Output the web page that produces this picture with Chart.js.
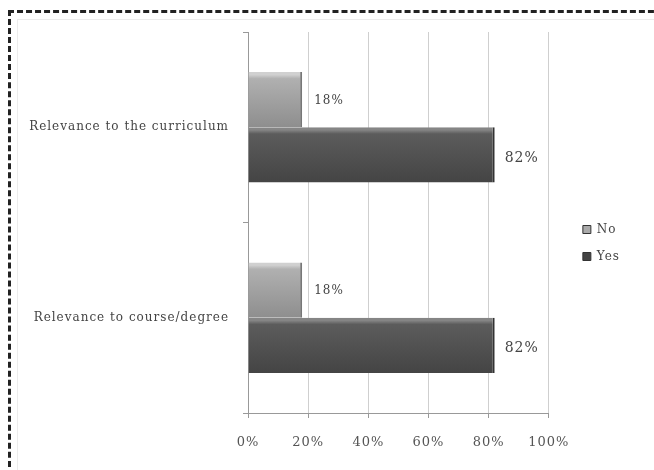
<!DOCTYPE html>
<html>
<head>
<meta charset="utf-8">
<script src="https://cdn.jsdelivr.net/npm/chart.js@4.4.1/dist/chart.umd.min.js"></script>
<style>
  html, body { margin: 0; padding: 0; background: #fff; }
  #wrap { position: relative; width: 654px; height: 470px; overflow: hidden; }
  #frame { position: absolute; left: 8px; top: 10px; width: 700px; height: 520px;
           border: 3px dashed #222; box-sizing: border-box; }
  #inner { position: absolute; left: 17px; top: 19px; width: 700px; height: 520px;
           border: 1px solid #ececec; box-sizing: border-box; }
  canvas { position: absolute; left: 0; top: 0; }
</style>
</head>
<body>
<div id="wrap">
  <div id="frame"></div>
  <div id="inner"></div>
  <canvas id="barChart" width="654" height="470"></canvas>
</div>
<script>
  'use strict';

  var categories = ["Relevance to the curriculum", "Relevance to course/degree"];
  var noValues = [18, 18];
  var yesValues = [82, 82];
  var tickValues = [0, 20, 40, 60, 80, 100];

  var serif = "'DejaVu Serif', 'Liberation Serif', serif";

  // vertical shading inside each bar, like the old office 3D style
  function barFill(light, mid, dark) {
    return function(ctx) {
      var el = ctx.element;
      var c = ctx.chart.ctx;
      if (!el || !el.height) return mid;
      var top = el.y - el.height / 2;
      var bottom = el.y + el.height / 2;
      var g = c.createLinearGradient(0, top, 0, bottom);
      g.addColorStop(0, light);
      g.addColorStop(0.05, light);
      g.addColorStop(0.12, mid);
      g.addColorStop(1, dark);
      return g;
    };
  }

  var valueLabels = {
    id: 'valueLabels',
    afterDatasetsDraw: function(chart) {
      var c = chart.ctx;
      c.save();
      c.fillStyle = '#444';
      c.textBaseline = 'middle';
      c.textAlign = 'left';
      chart.data.datasets.forEach(function(ds, i) {
        var meta = chart.getDatasetMeta(i);
        meta.data.forEach(function(bar, j) {
          c.font = (i === 0 ? '12px ' : '14px ') + serif;
          c.fillText(ds.data[j] + '%', bar.x + (i === 0 ? 12 : 10), bar.y + (i === 0 ? 1 : 3));
        });
      });
      c.restore();
    }
  };

  // the original text is drawn wide, spread the letters a little
  var wideText = {
    id: 'wideText',
    beforeUpdate: function(chart) { chart.ctx.letterSpacing = '1px'; },
    beforeLayout: function(chart) { chart.ctx.letterSpacing = '1px'; },
    beforeDraw: function(chart) { chart.ctx.letterSpacing = '1px'; }
  };

  // keep the legend where it sits in the original, a bit away from the plot
  var legendShift = {
    id: 'legendShift',
    afterLayout: function(chart) {
      chart.legend.left += 19;
      chart.legend.right += 19;
      chart.legend.top -= 5;
      chart.legend.bottom -= 5;
    }
  };

  var barData = {
    labels: categories,
    datasets: [{
      label: 'No',
      data: noValues,
      backgroundColor: barFill('#d0d0d0', '#b0b0b0', '#8e8e8e'),
      borderColor: '#777',
      borderWidth: { top: 0, bottom: 0, left: 0, right: 2 }
    }, {
      label: 'Yes',
      data: yesValues,
      backgroundColor: barFill('#858585', '#5c5c5c', '#444444'),
      borderColor: '#333',
      borderWidth: { top: 0, bottom: 0, left: 0, right: 2 }
    }]
  };

  var barOptions = {
    indexAxis: 'y',
    responsive: false,
    animation: false,
    categoryPercentage: 0.58,
    barPercentage: 1.0,
    layout: { padding: { left: 8, top: 32, right: 43, bottom: 6 } },
    scales: {
      x: {
        min: 0,
        max: 100,
        afterBuildTicks: function(scale) {
          scale.ticks = tickValues.map(function(v) { return { value: v }; });
        },
        afterFit: function(scale) { scale.height = 51; },
        ticks: {
          color: '#555',
          font: { family: serif, size: 13 },
          padding: 17,
          callback: function(v) { return v + '%'; }
        },
        grid: { color: '#cfcfcf', tickLength: 5, tickColor: '#999' },
        border: { color: '#999' }
      },
      y: {
        afterFit: function(scale) { scale.width = 240; },
        ticks: {
          color: '#444',
          font: { family: serif, size: 12 },
          padding: 14
        },
        grid: { offset: true, drawOnChartArea: false, tickLength: 5, color: '#999' },
        border: { color: '#999' }
      }
    },
    plugins: {
      legend: {
        position: 'right',
        labels: {
          color: '#444',
          font: { family: serif, size: 12 },
          boxWidth: 8,
          boxHeight: 8,
          padding: 15,
          generateLabels: function(chart) {
            var fills = ['#aaaaaa', '#444444'];
            return chart.data.datasets.map(function(ds, i) {
              return {
                text: ds.label,
                fillStyle: fills[i],
                strokeStyle: '#333',
                lineWidth: 1,
                fontColor: '#444',
                datasetIndex: i
              };
            });
          }
        }
      },
      tooltip: { enabled: false }
    }
  };

  var barCanvas = document.getElementById('barChart').getContext('2d');
  var barChart = new Chart(barCanvas, {
    type: 'bar',
    data: barData,
    options: barOptions,
    plugins: [wideText, valueLabels, legendShift]
  });
  // second pass so the gradients know where each bar is
  barChart.update();
</script>
</body>
</html>
